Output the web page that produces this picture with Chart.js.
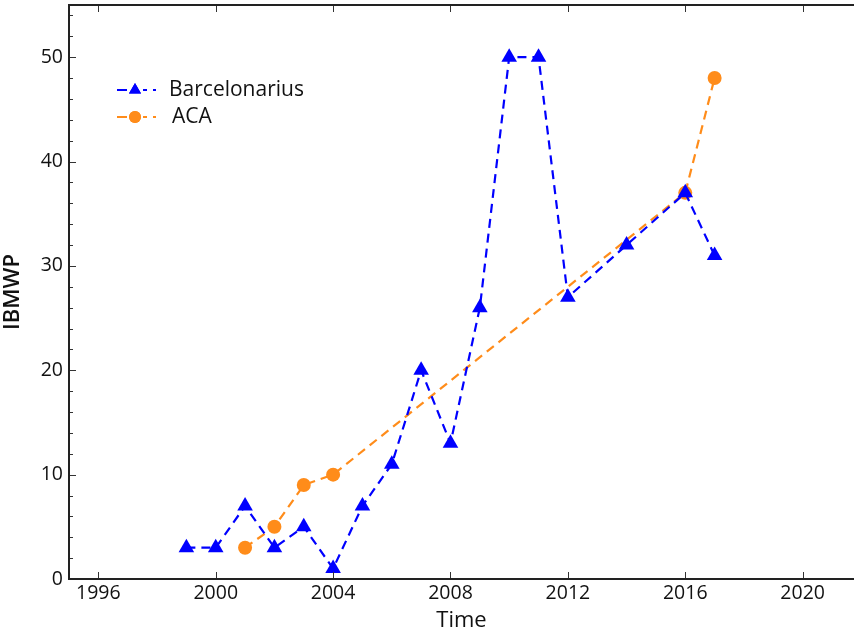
<!DOCTYPE html>
<html>
<head>
<meta charset="utf-8">
<script src="https://cdn.jsdelivr.net/npm/chart.js@4"></script>
<style>
  html, body { margin: 0; padding: 0; background: #fff; }
  #wrap { width: 854px; height: 634px; }
</style>
</head>
<body>
<div id="wrap"><canvas id="lineChart" width="854" height="634"></canvas></div>
<script>
var barcaYears = [1999, 2000, 2001, 2002, 2003, 2004, 2005, 2006, 2007, 2008, 2009, 2010, 2011, 2012, 2014, 2016, 2017];
var barcaValues = [3, 3, 7, 3, 5, 1, 7, 11, 20, 13, 26, 50, 50, 27, 32, 37, 31];
var acaYears = [2001, 2002, 2003, 2004, 2016, 2017];
var acaValues = [3, 5, 9, 10, 37, 48];
var xTicks = [1996, 2000, 2004, 2008, 2012, 2016, 2020];
var yTicks = [0, 10, 20, 30, 40, 50];
var yMinorTicks = [];
for (var m = 0; m <= 54; m += 2) yMinorTicks.push(m);

var FONT = '"Open Sans", "DejaVu Sans", sans-serif';
var BLUE = '#0000ff';
var ORANGE = '#ff8c1a';

function pts(xs, ys) {
    return xs.map(function (x, i) { return { x: x, y: ys[i] }; });
}

var data = {
    datasets: [{
        label: 'Barcelonarius',
        data: pts(barcaYears, barcaValues),
        borderColor: BLUE,
        backgroundColor: BLUE,
        borderWidth: 2.2,
        borderDash: [9, 6],
        pointStyle: 'triangle',
        pointRadius: 9,
        pointBorderWidth: 0,
        tension: 0
    }, {
        label: 'ACA',
        data: pts(acaYears, acaValues),
        borderColor: ORANGE,
        backgroundColor: ORANGE,
        borderWidth: 2.2,
        borderDash: [9, 6],
        pointStyle: 'circle',
        pointRadius: 7,
        pointBorderWidth: 0,
        tension: 0
    }]
};

// frame, inward ticks and the legend inside the plot
var framePlugin = {
    id: 'frame',
    afterDraw: function (chart) {
        var ctx = chart.ctx;
        var a = chart.chartArea;
        var xs = chart.scales.x, ys = chart.scales.y;
        ctx.save();
        ctx.strokeStyle = '#333';
        ctx.lineWidth = 1;
        xTicks.forEach(function (v) {
            var px = Math.round(xs.getPixelForValue(v)) + 0.5;
            ctx.beginPath();
            ctx.moveTo(px, a.bottom); ctx.lineTo(px, a.bottom - 7);
            ctx.moveTo(px, a.top); ctx.lineTo(px, a.top + 7);
            ctx.stroke();
        });
        yMinorTicks.forEach(function (v) {
            var py = Math.round(ys.getPixelForValue(v)) + 0.5;
            var len = v % 10 === 0 ? 7 : 4;
            ctx.beginPath();
            ctx.moveTo(a.left, py); ctx.lineTo(a.left + len, py);
            ctx.stroke();
        });
        ctx.strokeStyle = '#222';
        ctx.lineWidth = 2;
        ctx.beginPath();
        ctx.moveTo(a.right + 4, a.top);
        ctx.lineTo(a.left, a.top);
        ctx.lineTo(a.left, a.bottom);
        ctx.lineTo(a.right + 4, a.bottom);
        ctx.stroke();

        // legend
        var rows = [
            { y: 90, color: BLUE, style: 'triangle', r: 7, text: 'Barcelonarius', tx: 169 },
            { y: 117, color: ORANGE, style: 'circle', r: 6, text: 'ACA', tx: 172 }
        ];
        rows.forEach(function (row) {
            ctx.strokeStyle = row.color;
            ctx.fillStyle = row.color;
            ctx.lineWidth = 2.2;
            ctx.beginPath();
            ctx.moveTo(117, row.y); ctx.lineTo(127, row.y);
            ctx.moveTo(143, row.y); ctx.lineTo(147, row.y);
            ctx.moveTo(153, row.y); ctx.lineTo(156, row.y);
            ctx.stroke();
            Chart.helpers.drawPoint(ctx, { pointStyle: row.style, radius: row.r, borderWidth: 0 }, 135, row.y);
            ctx.fill();
            ctx.fillStyle = '#111';
            ctx.font = '21px ' + FONT;
            ctx.textBaseline = 'middle';
            ctx.fillText(row.text, row.tx, row.y);
        });
        ctx.restore();
    }
};

var config = {
    type: 'line',
    data: data,
    options: {
        responsive: false,
        animation: false,
        layout: { autoPadding: false, padding: { top: 5, right: 0, left: 0, bottom: 0 } },
        plugins: { legend: { display: false }, tooltip: { enabled: false } },
        scales: {
            x: {
                type: 'linear',
                min: 1995,
                max: 2021.75,
                afterBuildTicks: function (scale) {
                    scale.ticks = xTicks.map(function (v) { return { value: v }; });
                },
                afterFit: function (scale) {
                    scale.height = 55;
                    scale.paddingLeft = 0;
                    scale.paddingRight = 0;
                },
                grid: { display: false, drawTicks: false },
                border: { display: false },
                ticks: {
                    autoSkip: false,
                    maxRotation: 0,
                    padding: 3,
                    color: '#111',
                    font: { family: FONT, size: 19.5 },
                    callback: function (v) { return String(v); }
                },
                title: {
                    display: true,
                    text: 'Time',
                    color: '#111',
                    font: { family: FONT, size: 22 },
                    padding: { top: 0, bottom: 0 }
                }
            },
            y: {
                min: 0,
                max: 55,
                afterBuildTicks: function (scale) {
                    scale.ticks = yTicks.map(function (v) { return { value: v }; });
                },
                afterFit: function (scale) {
                    scale.width = 69;
                    scale.paddingTop = 0;
                    scale.paddingBottom = 0;
                },
                grid: { display: false, drawTicks: false },
                border: { display: false },
                ticks: {
                    padding: 6,
                    color: '#111',
                    font: { family: FONT, size: 19.5 }
                },
                title: {
                    display: true,
                    text: 'IBMWP',
                    color: '#111',
                    font: { family: FONT, size: 22, weight: '600' },
                    padding: { top: 0, bottom: 0 }
                }
            }
        }
    },
    plugins: [framePlugin]
};

var lineChart = new Chart(document.getElementById('lineChart'), config);
</script>
</body>
</html>
